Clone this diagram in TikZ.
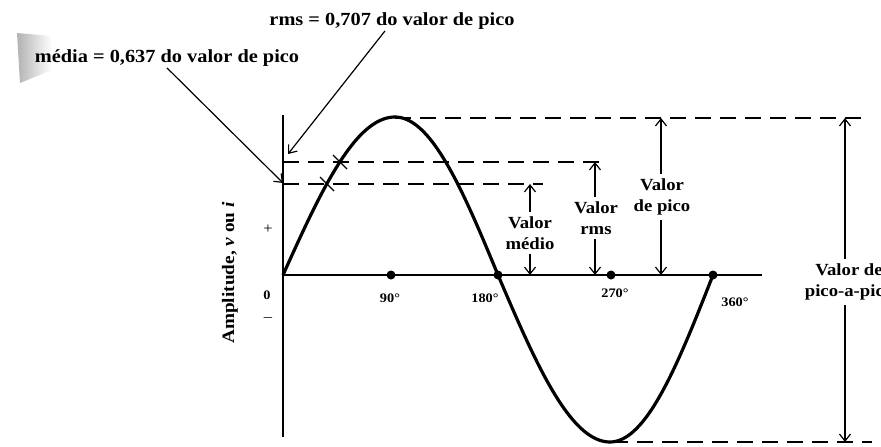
\documentclass[tikz,border=0pt]{standalone}
\usepackage{fontspec}
\setmainfont{Liberation Serif}[FakeStretch=1.1]
\usetikzlibrary{arrows.meta}
\begin{document}
\begin{tikzpicture}[x=1pt,y=-1pt,
  lbl/.style={font=\fontsize{17}{21}\selectfont\bfseries, align=center, inner sep=0pt, outer sep=5pt},
  toplbl/.style={font=\fontsize{18.5}{22}\selectfont\bfseries, inner sep=0pt, outer sep=2pt},
  deg/.style={font=\fontsize{13}{14}\selectfont\bfseries, inner sep=0pt},
  axisline/.style={line width=1.7pt},
  wave/.style={line width=3.2pt, line join=round},
  guide/.style={line width=1.3pt, dash pattern=on 16pt off 9pt},
  arr/.style={line width=1.2pt, -{Straight Barb[length=7pt,width=11pt]}},
  tick/.style={line width=1.2pt},
  dotmark/.style={circle, fill=black, inner sep=0pt, minimum size=9pt},
]
\useasboundingbox (0,0) rectangle (881,447);
\clip (0,0) rectangle (881,447);
\fill[white] (0,0) rectangle (881,447);

% scan smudge
\shade[left color=gray!60, right color=white] (17,33) -- (52,36) -- (52,70) -- (20,83) -- cycle;

% axes
\coordinate (O) at (283,275);
\coordinate (Ytop) at (283,115);
\coordinate (Ybot) at (283,437);
\coordinate (Xend) at (762,275);
\draw[axisline] (Ytop) -- (Ybot);
\draw[axisline] (O) -- (Xend);

% dashed guide lines
\coordinate (pk) at (395,118);   \coordinate (pkR) at (862,118);
\coordinate (rmsL) at (283,162); \coordinate (rmsR) at (607,162);
\coordinate (avL) at (283,184);  \coordinate (avR) at (543,184);
\coordinate (tr) at (612,442);   \coordinate (trR) at (872,442);
\draw[guide] (pk) -- (pkR);
\draw[guide] (rmsL) -- (rmsR);
\draw[guide] (avL) -- (avR);
\draw[guide] (tr) -- (trR);

% wave
\draw[wave] plot[domain=0:90,samples=40] ({283+\x*112/90},{275-158*sin(\x)})
  -- plot[domain=90:180,samples=40] ({395+(\x-90)*103/90},{275-158*sin(\x)})
  -- plot[domain=180:270,samples=40] ({498+(\x-180)*112/90},{275-167*sin(\x)})
  -- plot[domain=270:360,samples=40] ({610+(\x-270)*103/90},{275-167*sin(\x)});

% crosses on the wave
\coordinate (xr) at (340,162);
\coordinate (xa) at (327,184);
\draw[tick] (xr) ++(-7,-7) -- ++(14,14);
\draw[tick] (xa) ++(-7,-7) -- ++(14,14);

% dots
\node[dotmark] (d90) at (391,275) {};
\node[dotmark] (d180) at (498,275) {};
\node[dotmark] (d270) at (611,275) {};
\node[dotmark] (d360) at (713,275) {};

% degree labels
\node[deg] (l0) at (267,295) {0};
\node[deg] (l90) at (390,298) {90°};
\node[deg] (l180) at (485,298) {180°};
\node[deg] (l270) at (615,293) {270°};
\node[deg] (l360) at (735,302) {360°};
\node[deg, font=\fontsize{15}{16}\selectfont] (plus) at (268,229) {+};
\node[deg, font=\fontsize{15}{16}\selectfont] (minus) at (268,320) {–};

% y label
\node[rotate=90, font=\fontsize{17.5}{20}\selectfont\bfseries, inner sep=0pt] (ylab) at (230,273) {Amplitude, \textit{v} ou \textit{i}};

% top labels
\node[toplbl, anchor=base] (rmsT) at (392,25) {rms = 0,707 do valor de pico};
\node[toplbl, anchor=base] (avgT) at (167,62) {média = 0,637 do valor de pico};
\coordinate (rmsTip) at (288,154);
\coordinate (avTip) at (283,183);
\draw[arr] ([xshift=-7pt]rmsT.south) -- (rmsTip);
\draw[arr] (avgT.south) -- (avTip);

% value labels
\node[lbl] (medio) at (530,233) {Valor\\médio};
\node[lbl] (rmsV) at (596,218) {Valor\\rms};
\node[lbl] (pico) at (662,197) {Valor\\de pico};
\node[lbl] (pap) at (849,282) {Valor de\\pico-a-pico};

\coordinate (avM) at (530,184);  \coordinate (zM) at (530,275);
\coordinate (rmsM) at (595,162); \coordinate (zR) at (595,275);
\coordinate (pkM) at (661,118);  \coordinate (zP) at (661,275);
\coordinate (pkP) at (845,118);  \coordinate (trP) at (845,442);

\draw[arr] (medio.north -| avM) -- (avM);
\draw[arr] (medio.south -| zM) -- (zM);
\draw[arr] (rmsV.north -| rmsM) -- (rmsM);
\draw[arr] (rmsV.south -| zR) -- (zR);
\draw[arr] (pico.north -| pkM) -- (pkM);
\draw[arr] (pico.south -| zP) -- (zP);
\draw[arr] (pap.north -| pkP) -- (pkP);
\draw[arr] (pap.south -| trP) -- (trP);
\end{tikzpicture}
\end{document}
